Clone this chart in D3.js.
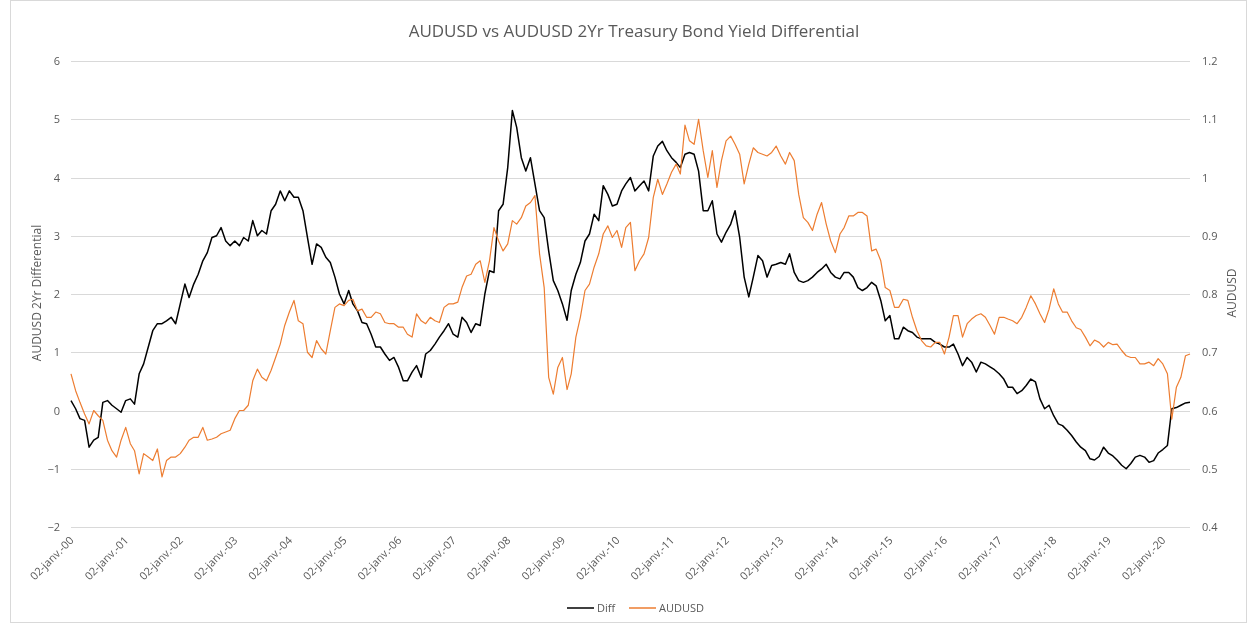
<!DOCTYPE html>
<html>
<head>
<meta charset="utf-8">
<script src="https://cdn.jsdelivr.net/npm/d3@7"></script>
<style>
  body { margin: 0; background: #fff; }
  svg { will-change: transform; }
  text { font-family: "Open Sans", sans-serif; fill: #595959; }
</style>
</head>
<body>
<svg id="chart" width="1248" height="625"></svg>
<script>
// monthly readings, first one on 02-janv.-00
let startDate = "2000-01-02";

let diff = [0.17,0.03,-0.14,-0.17,-0.63,-0.51,-0.46,0.14,0.17,0.09,0.03,-0.03,
  0.17,0.2,0.11,0.63,0.8,1.09,1.37,1.49,1.49,1.54,1.6,1.49,
  1.83,2.17,1.94,2.17,2.34,2.57,2.71,2.97,3.0,3.14,2.91,2.83,
  2.91,2.83,2.97,2.91,3.26,3.0,3.09,3.03,3.43,3.54,3.77,3.6,
  3.77,3.66,3.66,3.43,2.97,2.51,2.86,2.8,2.63,2.54,2.29,2.0,
  1.83,2.06,1.83,1.71,1.51,1.49,1.31,1.09,1.09,0.97,0.86,0.91,
  0.74,0.51,0.51,0.66,0.77,0.57,0.97,1.03,1.14,1.26,1.37,1.49,
  1.31,1.26,1.6,1.51,1.34,1.49,1.46,2.0,2.4,2.37,3.43,3.54,
  4.17,5.15,4.86,4.34,4.11,4.34,3.89,3.43,3.31,2.74,2.23,2.06,
  1.83,1.55,2.06,2.34,2.54,2.91,3.03,3.37,3.26,3.86,3.71,3.51,
  3.54,3.77,3.89,4.0,3.77,3.86,3.94,3.77,4.37,4.54,4.62,4.46,
  4.34,4.26,4.17,4.4,4.43,4.4,4.11,3.43,3.43,3.6,3.03,2.89,
  3.06,3.2,3.43,2.97,2.29,1.95,2.29,2.66,2.57,2.29,2.49,2.51,
  2.54,2.51,2.69,2.37,2.23,2.2,2.23,2.29,2.37,2.43,2.51,2.37,
  2.29,2.26,2.37,2.37,2.29,2.11,2.06,2.11,2.2,2.14,1.89,1.54,
  1.63,1.23,1.23,1.43,1.37,1.34,1.26,1.23,1.23,1.23,1.17,1.14,
  1.09,1.09,1.14,0.97,0.77,0.91,0.83,0.66,0.83,0.8,0.75,0.7,
  0.63,0.54,0.4,0.4,0.29,0.34,0.43,0.54,0.49,0.2,0.03,0.09,
  -0.09,-0.23,-0.26,-0.34,-0.43,-0.54,-0.63,-0.69,-0.83,-0.85,-0.79,-0.63,
  -0.73,-0.78,-0.85,-0.94,-1.0,-0.91,-0.8,-0.77,-0.8,-0.89,-0.86,-0.73,
  -0.67,-0.6,0.03,0.05,0.09,0.13,0.14];

let audusd = [0.663,0.634,0.614,0.594,0.577,0.6,0.591,0.583,0.549,0.531,0.52,0.549,
  0.571,0.543,0.531,0.491,0.526,0.52,0.514,0.534,0.486,0.514,0.52,0.52,
  0.526,0.537,0.549,0.554,0.554,0.571,0.549,0.551,0.554,0.56,0.563,0.566,
  0.586,0.6,0.6,0.609,0.651,0.671,0.657,0.651,0.669,0.691,0.714,0.746,
  0.769,0.789,0.754,0.749,0.7,0.691,0.72,0.706,0.697,0.737,0.777,0.783,
  0.78,0.789,0.791,0.771,0.774,0.76,0.76,0.769,0.766,0.751,0.749,0.749,
  0.743,0.743,0.731,0.726,0.766,0.754,0.749,0.76,0.754,0.751,0.777,0.783,
  0.783,0.786,0.811,0.831,0.834,0.851,0.857,0.82,0.857,0.914,0.891,0.874,
  0.886,0.926,0.92,0.931,0.951,0.957,0.969,0.869,0.811,0.657,0.628,0.674,
  0.691,0.636,0.663,0.726,0.76,0.806,0.817,0.846,0.869,0.903,0.917,0.897,
  0.909,0.88,0.914,0.923,0.84,0.857,0.869,0.897,0.966,0.997,0.971,0.989,
  1.009,1.023,1.006,1.09,1.063,1.057,1.1,1.046,1.0,1.046,0.983,1.029,
  1.063,1.071,1.057,1.04,0.989,1.023,1.051,1.043,1.04,1.037,1.043,1.054,
  1.037,1.023,1.043,1.029,0.971,0.931,0.923,0.909,0.937,0.957,0.92,0.891,
  0.871,0.903,0.914,0.934,0.934,0.94,0.94,0.934,0.874,0.877,0.857,0.811,
  0.806,0.777,0.777,0.791,0.789,0.76,0.737,0.72,0.711,0.709,0.717,0.717,
  0.697,0.726,0.763,0.763,0.726,0.749,0.757,0.763,0.766,0.76,0.746,0.731,
  0.76,0.76,0.757,0.754,0.749,0.76,0.777,0.797,0.783,0.766,0.751,0.774,
  0.809,0.783,0.769,0.769,0.754,0.742,0.739,0.726,0.711,0.721,0.717,0.709,
  0.717,0.713,0.714,0.703,0.694,0.691,0.691,0.68,0.68,0.683,0.677,0.689,
  0.68,0.663,0.585,0.64,0.657,0.694,0.697];

let leftTicks = [-2,-1,0,1,2,3,4,5,6];
let rightTicks = [0.4,0.5,0.6,0.7,0.8,0.9,1,1.1,1.2];
let tickYears = d3.range(2000, 2021);
let seriesNames = ["Diff", "AUDUSD"];
let seriesColors = ["#000000", "#ED7D31"];

let fr = d3.timeFormatLocale({
  dateTime: "%A %e %B %Y à %X", date: "%d/%m/%Y", time: "%H:%M:%S",
  periods: ["AM", "PM"],
  days: ["dimanche","lundi","mardi","mercredi","jeudi","vendredi","samedi"],
  shortDays: ["dim.","lun.","mar.","mer.","jeu.","ven.","sam."],
  months: ["janvier","février","mars","avril","mai","juin","juillet","août","septembre","octobre","novembre","décembre"],
  shortMonths: ["janv.","févr.","mars","avr.","mai","juin","juil.","août","sept.","oct.","nov.","déc."]
});
let fmt = fr.format("%d-%b-%y");

let start = d3.isoParse(startDate);
let dates = diff.map((d, i) => d3.timeMonth.offset(start, i));

let plotL = 71, plotR = 1190, plotT = 61, plotB = 527;

let x = d3.scaleTime().domain([dates[0], dates[dates.length - 1]]).range([plotL, plotR]);
let yL = d3.scaleLinear().domain([-2, 6]).range([plotB, plotT]);
let yR = d3.scaleLinear().domain([0.4, 1.2]).range([plotB, plotT]);

let svg = d3.select("#chart");

// chart border
svg.append("rect")
  .attr("x", 10.5).attr("y", 0.5)
  .attr("width", 1236).attr("height", 622)
  .attr("fill", "none").attr("stroke", "#d9d9d9");

// gridlines
svg.append("g").selectAll("line")
  .data(leftTicks)
  .enter()
  .append("line")
  .attr("x1", plotL).attr("x2", plotR)
  .attr("y1", d => Math.round(yL(d)) + 0.5)
  .attr("y2", d => Math.round(yL(d)) + 0.5)
  .attr("stroke", "#d9d9d9").attr("stroke-width", 1);

// left axis
let axL = svg.append("g")
  .attr("transform", "translate(" + plotL + ",0)")
  .attr("color", "#595959")
  .call(d3.axisLeft(yL).tickValues(leftTicks).tickSize(0).tickPadding(11));
axL.select(".domain").remove();
axL.selectAll("text").attr("fill", "#595959").style("font-size", "11px");

// right axis
let axR = svg.append("g")
  .attr("transform", "translate(" + plotR + ",0)")
  .attr("color", "#595959")
  .call(d3.axisRight(yR).tickValues(rightTicks).tickSize(0).tickPadding(12).tickFormat(d3.format("~g")));
axR.select(".domain").remove();
axR.selectAll("text").attr("fill", "#595959").style("font-size", "11px");

// bottom axis
let axB = svg.append("g")
  .attr("transform", "translate(0," + plotB + ")")
  .attr("color", "#595959")
  .call(d3.axisBottom(x)
    .tickValues(tickYears.map(yr => new Date(yr, 0, 2)))
    .tickFormat(fmt).tickSize(0));
axB.select(".domain").remove();
axB.selectAll("text")
  .attr("fill", "#595959")
  .style("font-size", "11px")
  .attr("text-anchor", "end")
  .attr("dy", null).attr("y", 0)
  .attr("transform", "translate(3,14) rotate(-45)");

// lines
let lineL = d3.line().x((d, i) => x(dates[i])).y(d => yL(d));
let lineR = d3.line().x((d, i) => x(dates[i])).y(d => yR(d));

svg.append("path")
  .datum(diff)
  .attr("d", lineL)
  .attr("fill", "none")
  .attr("stroke", seriesColors[0])
  .attr("stroke-width", 1.5)
  .attr("stroke-linejoin", "round");

svg.append("path")
  .datum(audusd)
  .attr("d", lineR)
  .attr("fill", "none")
  .attr("stroke", seriesColors[1])
  .attr("stroke-width", 1.2)
  .attr("stroke-linejoin", "round");

// title
svg.append("text")
  .attr("x", 634).attr("y", 37)
  .attr("text-anchor", "middle")
  .style("font-size", "17px")
  .text("AUDUSD vs AUDUSD 2Yr Treasury Bond Yield Differential");

// axis titles
svg.append("text")
  .attr("transform", "translate(41,293) rotate(-90)")
  .attr("text-anchor", "middle")
  .style("font-size", "12px")
  .text("AUDUSD 2Yr Differential");

svg.append("text")
  .attr("transform", "translate(1236,293) rotate(-90)")
  .attr("text-anchor", "middle")
  .style("font-size", "12px")
  .text("AUDUSD");

// legend
let legX = [567, 629];
let legend = svg.append("g").selectAll("g")
  .data(seriesNames)
  .enter()
  .append("g")
  .attr("transform", (d, i) => "translate(" + legX[i] + ",608)");

legend.append("line")
  .attr("x1", 0).attr("x2", 27)
  .attr("stroke", (d, i) => seriesColors[i])
  .attr("stroke-width", 1.5);

legend.append("text")
  .attr("x", 30).attr("y", 4)
  .style("font-size", "11px")
  .text(d => d);
</script>
</body>
</html>
